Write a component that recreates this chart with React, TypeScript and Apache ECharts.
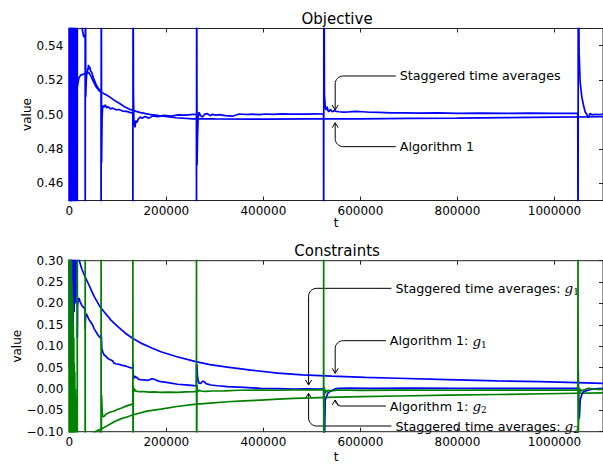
import React, { useEffect, useRef } from "react";
import * as echarts from "echarts";

// ---------- tick values ----------
const X_TICKS = [0, 200000, 400000, 600000, 800000, 1000000];
const OBJ_TICKS = [0.46, 0.48, 0.5, 0.52, 0.54];
const CON_TICKS = [-0.1, -0.05, 0.0, 0.05, 0.1, 0.15, 0.2, 0.25, 0.3];

// ---------- Objective ----------
const objAlgorithm1: number[][] = [
  [0, 0.2], [700, 0.8], [1500, 0.35], [2500, 0.66], [3500, 0.42], [4600, 0.58], [5800, 0.47],
  [7000, 0.555], [8300, 0.49], [9600, 0.535], [11000, 0.505], [12500, 0.525], [14000, 0.512],
  [16384, 0.516], [20000, 0.5215], [24000, 0.523], [30000, 0.5235], [36000, 0.524], [40000, 0.5245],
  [45000, 0.522], [50000, 0.519], [55000, 0.5162], [62000, 0.5137], [72000, 0.512], [82000, 0.5104],
  [93000, 0.5082], [103000, 0.5065], [113000, 0.5047], [123000, 0.5032], [131000, 0.5024],
  [145000, 0.5012], [165000, 0.5001], [185000, 0.4993], [220000, 0.4981], [255000, 0.4975],
  [300000, 0.4974], [400000, 0.4973], [500000, 0.4974], [600000, 0.4975], [700000, 0.4977],
  [800000, 0.4979], [900000, 0.4982], [1000000, 0.4985], [1100000, 0.4987],
];

const objStaggered: number[][] = [
  [0, 0.62], [200, 0.33], [400, 0.7], [650, 0.3], [900, 0.75], [1200, 0.35], [1500, 0.72],
  [1850, 0.38], [2200, 0.66], [2550, 0.32], [2900, 0.68], [3250, 0.41], [3600, 0.6], [4000, 0.33],
  [4400, 0.64], [4800, 0.36], [5200, 0.58], [5600, 0.38], [6000, 0.63], [6450, 0.43], [6900, 0.57],
  [7300, 0.4], [7700, 0.61], [8150, 0.42], [8600, 0.59], [9000, 0.41], [9400, 0.58], [9850, 0.44],
  [10300, 0.56], [10750, 0.42], [11200, 0.59], [11650, 0.43], [12100, 0.6], [12550, 0.44],
  [13000, 0.57], [13500, 0.43], [14000, 0.57], [14500, 0.44], [15000, 0.58], [15500, 0.43], [16000, 0.58],
  [16384, 0.4], [16700, 0.72], [18500, 0.6], [21000, 0.57], [24000, 0.556], [27000, 0.549],
  [30000, 0.545], [32700, 0.546],
  [32768, 0.38], [33100, 0.66], [33800, 0.51], [34800, 0.519], [36000, 0.524], [37500, 0.5255],
  [38800, 0.5272], [39700, 0.5288], [40800, 0.5262], [42000, 0.5278], [43500, 0.5255], [46000, 0.5245],
  [50000, 0.521], [55000, 0.5175], [60000, 0.515], [65400, 0.5135],
  [65536, 0.38], [65900, 0.62], [66500, 0.472], [67500, 0.498], [68500, 0.5035], [70000, 0.5052],
  [72000, 0.5042], [74000, 0.5056], [77000, 0.5038], [80000, 0.5045], [85000, 0.5033], [90000, 0.5037],
  [96000, 0.5027], [102000, 0.5029], [110000, 0.502], [118000, 0.5018], [125000, 0.5012], [131000, 0.5008],
  [131072, 0.4], [131400, 0.6], [132200, 0.513], [133300, 0.4935], [134500, 0.4955], [135500, 0.4925],
  [137000, 0.4965], [139000, 0.4952], [142000, 0.4972], [146000, 0.4985], [150000, 0.4978],
  [156000, 0.4988], [164000, 0.4979], [172000, 0.4992], [182000, 0.4987], [195000, 0.4995],
  [210000, 0.4991], [225000, 0.4998], [240000, 0.4996], [255000, 0.5001], [262000, 0.5],
  [262144, 0.4], [262500, 0.6], [263300, 0.4705], [264300, 0.487], [265500, 0.4985], [267500, 0.5013],
  [270000, 0.4995], [274300, 0.4985], [279000, 0.5002], [284600, 0.5005], [290000, 0.4993],
  [295000, 0.5001], [302000, 0.4996], [309000, 0.4999], [322000, 0.4993], [336000, 0.499],
  [350000, 0.5003], [365000, 0.5], [377000, 0.5002], [392000, 0.4999], [405000, 0.5003],
  [420000, 0.5001], [439000, 0.5004], [455000, 0.5002], [473000, 0.5003], [490000, 0.5002],
  [508000, 0.5004], [524000, 0.5003],
  [524288, 0.4], [524700, 0.62], [525800, 0.512], [527500, 0.5045], [529000, 0.5026], [531500, 0.5045],
  [533000, 0.5022], [535000, 0.5016], [538000, 0.503], [541800, 0.5016], [546000, 0.5022],
  [551000, 0.5018], [556000, 0.5016], [565000, 0.5014], [576000, 0.5015], [590000, 0.5018],
  [603500, 0.5016], [620000, 0.5013], [638000, 0.5012], [665000, 0.5009], [693000, 0.501],
  [720000, 0.5008], [760000, 0.5009], [800000, 0.5007], [850000, 0.5008], [900000, 0.5007],
  [950000, 0.5008], [1000000, 0.5007], [1048000, 0.5007],
  [1048576, 0.4], [1049000, 0.62], [1050700, 0.5365], [1052800, 0.519], [1056200, 0.5104],
  [1059700, 0.5055], [1063100, 0.5016], [1066500, 0.5001], [1070000, 0.4981], [1073400, 0.5007],
  [1076800, 0.4998], [1083600, 0.5001], [1090000, 0.4999], [1100000, 0.5001],
];

// ---------- Constraints ----------
const g1Algorithm1: number[][] = [
  [0, 0.9], [800, 0.1], [1800, 0.7], [3000, 0.2], [4500, 0.55], [6500, 0.3], [9000, 0.45],
  [12000, 0.36], [16384, 0.33], [20600, 0.3], [26000, 0.28], [34300, 0.258], [41000, 0.242],
  [51400, 0.216], [63500, 0.192], [72000, 0.18], [85800, 0.161], [100000, 0.146], [115000, 0.131],
  [130300, 0.1185], [150000, 0.106], [170000, 0.096], [188700, 0.087], [220000, 0.076],
  [260700, 0.064], [290000, 0.057], [325700, 0.051], [373900, 0.044], [430000, 0.037],
  [480000, 0.033], [541000, 0.03], [610000, 0.027], [677000, 0.025], [780000, 0.022],
  [882000, 0.019], [970000, 0.017], [1046000, 0.015], [1100000, 0.013],
];

const g2Algorithm1: number[][] = [
  [0, 0.4], [800, -0.6], [1800, 0.2], [3000, -0.4], [4500, 0.05], [6500, -0.3], [9000, -0.05],
  [12000, -0.22], [16384, -0.15], [24000, -0.16], [34000, -0.14], [44000, -0.115], [51400, -0.101],
  [65200, -0.094], [80000, -0.085], [92600, -0.0766], [106000, -0.07], [120000, -0.065],
  [130200, -0.061], [160000, -0.052], [188700, -0.047], [222000, -0.041], [257200, -0.036],
  [290000, -0.033], [325700, -0.03], [360000, -0.028], [394400, -0.026], [430000, -0.024],
  [463000, -0.022], [500000, -0.021], [531500, -0.0196], [600000, -0.018], [680000, -0.0165],
  [780000, -0.0145], [880000, -0.013], [980000, -0.0112], [1100000, -0.0092],
];

const g1Staggered: number[][] = [
  [0, 0.6], [600, 0.05], [1300, 0.45], [2100, 0.0], [2900, 0.38], [3800, 0.08], [4700, 0.35],
  [5700, 0.12], [6700, 0.4], [7800, 0.15], [8900, 0.36], [10000, 0.18], [11200, 0.33], [12400, 0.2],
  [13600, 0.32], [14800, 0.22], [16300, 0.31],
  [16500, 0.12], [17100, 0.196], [18200, 0.205], [19200, 0.212], [20600, 0.211], [21900, 0.205],
  [24000, 0.2003], [26000, 0.195], [27400, 0.1924], [29000, 0.192], [30900, 0.1886], [32600, 0.185],
  [32768, 0.14], [33000, 0.157], [34300, 0.1769], [35500, 0.17], [36500, 0.174], [37700, 0.169],
  [39500, 0.165], [41200, 0.1613], [44500, 0.156], [48000, 0.1496], [51500, 0.14], [54900, 0.134],
  [58000, 0.128], [61700, 0.122], [63800, 0.12], [65400, 0.121],
  [65536, 0.128], [66200, 0.12], [67000, 0.095], [68500, 0.088], [70000, 0.084], [72000, 0.0794],
  [75500, 0.076], [79000, 0.072], [82300, 0.0695], [85800, 0.0677], [89100, 0.066], [92000, 0.0605],
  [96000, 0.059], [99400, 0.058], [103000, 0.0575], [109700, 0.055], [116600, 0.0535],
  [120000, 0.052], [124000, 0.0505], [128200, 0.049], [131000, 0.0485],
  [131072, 0.06], [131600, 0.048], [132300, 0.022], [133000, 0.031], [134000, 0.0263],
  [135500, 0.03], [137200, 0.0263], [139500, 0.0275], [142000, 0.023], [146000, 0.022],
  [150000, 0.021], [154300, 0.0215], [160000, 0.02], [166000, 0.0215], [170000, 0.024],
  [176000, 0.022], [182000, 0.019], [188700, 0.017], [200000, 0.0155], [210000, 0.0135],
  [222900, 0.011], [240000, 0.0095], [257200, 0.0077], [262000, 0.0075],
  [262144, 0.058], [263000, 0.056], [264200, 0.03], [265400, 0.021], [267500, 0.0135],
  [271000, 0.013], [274300, 0.018], [277800, 0.017], [282000, 0.0125], [291500, 0.0092],
  [305000, 0.0075], [325700, 0.0053], [360000, 0.0035], [394400, 0.0015], [430000, 0.0008],
  [463000, -0.0001], [490000, 0.0003], [517900, -0.0001], [524200, 0.0],
  [525500, -0.15], [527500, -0.026], [530000, -0.018], [533000, -0.01], [537000, -0.006],
  [541800, -0.003], [548000, 0.0], [555600, 0.0015], [576000, 0.002], [620000, 0.0015],
  [700000, 0.0018], [800000, 0.0012], [900000, 0.0015], [1000000, 0.0012], [1048000, 0.0012],
  [1049000, 0.045], [1050000, -0.07], [1051500, -0.065], [1053000, -0.026], [1056000, -0.014],
  [1060000, -0.0064], [1066000, -0.004], [1076000, -0.0008], [1090000, 0.0008], [1100000, 0.0012],
];

const g2Staggered: number[][] = [
  [0, -0.5], [250, 0.33], [500, -0.35], [800, 0.34], [1100, -0.3], [1450, 0.32], [1800, -0.25],
  [2150, 0.32], [2500, -0.2], [2900, 0.31], [3300, -0.22], [3700, 0.31], [4100, -0.15], [4550, 0.3],
  [5000, -0.2], [5450, 0.25], [5900, -0.25], [6350, 0.22], [6800, -0.18], [7300, 0.2], [7800, -0.2],
  [8300, 0.15], [8800, -0.16], [9300, 0.12], [9800, -0.18], [10300, 0.06], [10800, -0.14],
  [11350, 0.04], [11900, -0.15], [12450, 0.0], [13000, -0.14], [13550, -0.02], [14100, -0.13],
  [14650, -0.04], [15200, -0.12], [15750, -0.06], [16300, -0.12],
  [16384, 0.35], [16600, -0.3], [18000, -0.2], [20000, -0.16], [24000, -0.14], [28000, -0.13],
  [32600, -0.125],
  [32768, 0.35], [33000, -0.35], [34000, -0.16], [38000, -0.125], [45000, -0.11], [52000, -0.106],
  [58000, -0.104], [65400, -0.103],
  [65536, 0.35], [65800, -0.2], [66500, -0.014], [67300, -0.04], [68500, -0.062], [70000, -0.065],
  [72000, -0.064], [75000, -0.06], [78800, -0.057], [85000, -0.054], [92600, -0.0516], [99000, -0.048],
  [106400, -0.0453], [113000, -0.042], [120000, -0.039], [128300, -0.036], [131000, -0.0355],
  [131072, 0.35], [131300, -0.2], [131900, 0.0053], [132600, -0.006], [133400, 0.002],
  [134500, -0.006], [135500, -0.002], [137200, -0.0048], [140000, -0.0055], [145000, -0.0064],
  [154300, -0.0062], [165000, -0.0072], [175000, -0.0068], [188700, -0.0078], [205000, -0.0072],
  [222900, -0.0078], [240000, -0.007], [257200, -0.0064], [262000, -0.006],
  [262144, 0.35], [262400, -0.2], [263200, 0.009], [264200, -0.002], [265400, -0.0064],
  [268000, -0.003], [271000, -0.0048], [280000, -0.0055], [295000, -0.0048], [320000, -0.0045],
  [350000, -0.003], [394400, -0.0025], [430000, -0.003], [463000, -0.0025], [500000, -0.002],
  [524000, -0.002],
  [524288, 0.35], [524500, -0.2], [525600, 0.004], [526500, -0.012], [528000, -0.002],
  [530000, -0.008], [533000, -0.003], [540000, -0.0045], [555000, -0.0025], [600000, -0.0035],
  [680000, -0.0028], [780000, -0.003], [880000, -0.0025], [980000, -0.0028], [1048000, -0.0025],
  [1048576, 0.35], [1048800, -0.2], [1050000, 0.004], [1051500, -0.01], [1053000, 0.0],
  [1056000, -0.005], [1060000, -0.0025], [1070000, 0.0015], [1080000, -0.0005], [1090000, -0.0008],
  [1100000, -0.001],
];

// ---------- annotations (text anchor and arrow tip, in data coordinates) ----------
const objAnnotations = [
  { label: "Staggered time averages", sub: "", text: [681100, 0.5224], tip: [548000, 0.5026] },
  { label: "Algorithm 1", sub: "", text: [681100, 0.4813], tip: [548000, 0.4952] },
];
const conAnnotations = [
  { label: "Staggered time averages: ", sub: "1", text: [672100, 0.2354], tip: [493200, 0.0092] },
  { label: "Algorithm 1: ", sub: "1", text: [660700, 0.1129], tip: [548000, 0.0366] },
  { label: "Algorithm 1: ", sub: "2", text: [660700, -0.0399], tip: [548000, -0.0258] },
  { label: "Staggered time averages: ", sub: "2", text: [672100, -0.0867], tip: [493200, -0.0102] },
];

// ---------- layout ----------
const W = 603;
const H = 464;
const LEFT = 69.3;
const PW = 535.5;
const TOP1 = 28.5;
const PH1 = 172;
const TOP2 = 260.7;
const PH2 = 171;
const FONT = '"DejaVu Sans", "Liberation Sans", sans-serif';
const BLUE = "#0000ff";
const GREEN = "#008000";
const SPINE = "#222";

const conFmt = (v: number) => {
  if (Math.abs(v) < 1e-9) return "0.00";
  return (v < 0 ? "\u2212" : "") + Math.abs(v).toFixed(2);
};

function makeXAxis(grid: number, pos: "bottom" | "top", showLabels: boolean) {
  return {
    type: "value",
    gridIndex: grid,
    position: pos,
    min: 0,
    max: 1100000,
    name: showLabels ? "t" : "",
    nameLocation: "middle",
    nameGap: grid === 0 ? 16.5 : 19,
    nameMoveOverlap: false,
    nameTextStyle: { fontFamily: FONT, fontSize: 12, color: "#000" },
    axisLine: { show: false, onZero: false },
    axisTick: { show: true, inside: true, length: 4, customValues: X_TICKS, lineStyle: { color: SPINE, width: 1 } },
    axisLabel: {
      show: showLabels,
      customValues: X_TICKS,
      margin: 4,
      fontFamily: FONT,
      fontSize: 12,
      color: "#000",
      formatter: (v: number) => String(Math.round(v)),
    },
    splitLine: { show: false },
  };
}

function makeYAxis(grid: number, pos: "left" | "right", showLabels: boolean) {
  const isObj = grid === 0;
  const ticks = isObj ? OBJ_TICKS : CON_TICKS;
  return {
    type: "value",
    gridIndex: grid,
    position: pos,
    min: isObj ? 0.45 : -0.1,
    max: isObj ? 0.55 : 0.3,
    name: showLabels ? "value" : "",
    nameLocation: "middle",
    nameGap: isObj ? 36 : 46,
    nameMoveOverlap: false,
    nameTextStyle: { fontFamily: FONT, fontSize: 12, color: "#000" },
    axisLine: { show: false, onZero: false },
    axisTick: { show: true, inside: true, length: 4, customValues: ticks, lineStyle: { color: SPINE, width: 1 } },
    axisLabel: {
      show: showLabels,
      customValues: ticks,
      margin: 6,
      fontFamily: FONT,
      fontSize: 12,
      color: "#000",
      formatter: (v: number) => (isObj ? v.toFixed(2) : conFmt(v)),
    },
    splitLine: { show: false },
  };
}

function lineSeries(data: number[][], color: string, xi: number, yi: number) {
  return {
    type: "line",
    data,
    xAxisIndex: xi,
    yAxisIndex: yi,
    showSymbol: false,
    symbol: "none",
    clip: true,
    lineStyle: { color, width: 1.7 },
    itemStyle: { color },
    emphasis: { disabled: true },
    silent: true,
  };
}

function annotationGraphics(chart: any, list: any[], xi: number, yi: number) {
  const out: any[] = [];
  const GAP = 4;
  list.forEach((a) => {
    const tp = chart.convertToPixel({ xAxisIndex: xi, yAxisIndex: yi }, a.text);
    const tip = chart.convertToPixel({ xAxisIndex: xi, yAxisIndex: yi }, a.tip);
    const tx = tp[0];
    const ty = tp[1];
    const lineEnd = tx - GAP;
    const dir = tip[1] > ty ? 1 : -1;
    const r = Math.min(8, Math.abs(tip[1] - ty));
    const pts: number[][] = [[lineEnd, ty]];
    const cx = tip[0] + r;
    const cy = ty + r * dir;
    for (let k = 0; k <= 8; k++) {
      const th = (k / 8) * (Math.PI / 2);
      pts.push([cx - r * Math.sin(th), cy - r * dir * Math.cos(th)]);
    }
    pts.push([tip[0], tip[1]]);
    out.push({
      type: "polyline",
      silent: true,
      shape: { points: pts },
      style: { stroke: "#000", lineWidth: 1, fill: null },
    });
    out.push({
      type: "polyline",
      silent: true,
      shape: { points: [[tip[0] - 3, tip[1] - dir * 5], [tip[0], tip[1]], [tip[0] + 3, tip[1] - dir * 5]] },
      style: { stroke: "#000", lineWidth: 1, fill: null },
    });
    const text = a.sub ? `${a.label}{g|g}{s|${a.sub}}` : a.label;
    out.push({
      type: "text",
      silent: true,
      x: tx,
      y: ty,
      style: {
        text,
        font: `12.7px ${FONT}`,
        fill: "#000",
        textAlign: "left",
        textVerticalAlign: "middle",
        rich: {
          g: { font: 'italic 13.5px "DejaVu Serif", serif', fill: "#000" },
          s: { font: '9px "DejaVu Serif", serif', fill: "#000", padding: [8, 0, 0, 0] },
        },
      },
    });
  });
  return out;
}

export default function App() {
  const ref = useRef<HTMLDivElement>(null);
  useEffect(() => {
    if (!ref.current) return;
    const chart = echarts.init(ref.current, undefined, { renderer: "svg", width: W, height: H });
    const option: any = {
      animation: false,
      backgroundColor: "#fff",
      grid: [
        { left: LEFT, top: TOP1, width: PW, height: PH1, show: true, borderColor: SPINE, borderWidth: 1, backgroundColor: "transparent" },
        { left: LEFT, top: TOP2, width: PW, height: PH2, show: true, borderColor: SPINE, borderWidth: 1, backgroundColor: "transparent" },
      ],
      xAxis: [makeXAxis(0, "bottom", true), makeXAxis(0, "top", false), makeXAxis(1, "bottom", true), makeXAxis(1, "top", false)],
      yAxis: [makeYAxis(0, "left", true), makeYAxis(0, "right", false), makeYAxis(1, "left", true), makeYAxis(1, "right", false)],
      series: [
        lineSeries(objAlgorithm1, BLUE, 0, 0),
        lineSeries(objStaggered, BLUE, 0, 0),
        lineSeries(g1Algorithm1, BLUE, 2, 2),
        lineSeries(g2Algorithm1, GREEN, 2, 2),
        lineSeries(g1Staggered, BLUE, 2, 2),
        lineSeries(g2Staggered, GREEN, 2, 2),
      ],
    };
    chart.setOption(option);
    const titles = [
      { type: "text", silent: true, x: LEFT + PW / 2, y: 18.5, style: { text: "Objective", font: `15px ${FONT}`, fill: "#000", textAlign: "center", textVerticalAlign: "middle" } },
      { type: "text", silent: true, x: LEFT + PW / 2, y: 250.5, style: { text: "Constraints", font: `15px ${FONT}`, fill: "#000", textAlign: "center", textVerticalAlign: "middle" } },
    ];
    const graphics = [
      ...titles,
      ...annotationGraphics(chart, objAnnotations, 0, 0),
      ...annotationGraphics(chart, conAnnotations, 2, 2),
    ];
    chart.setOption({ graphic: graphics });
    return () => chart.dispose();
  }, []);
  return (
    <div
      ref={ref}
      style={{ position: "fixed", left: 0, top: 0, width: W, height: H, background: "#fff" }}
    />
  );
}
